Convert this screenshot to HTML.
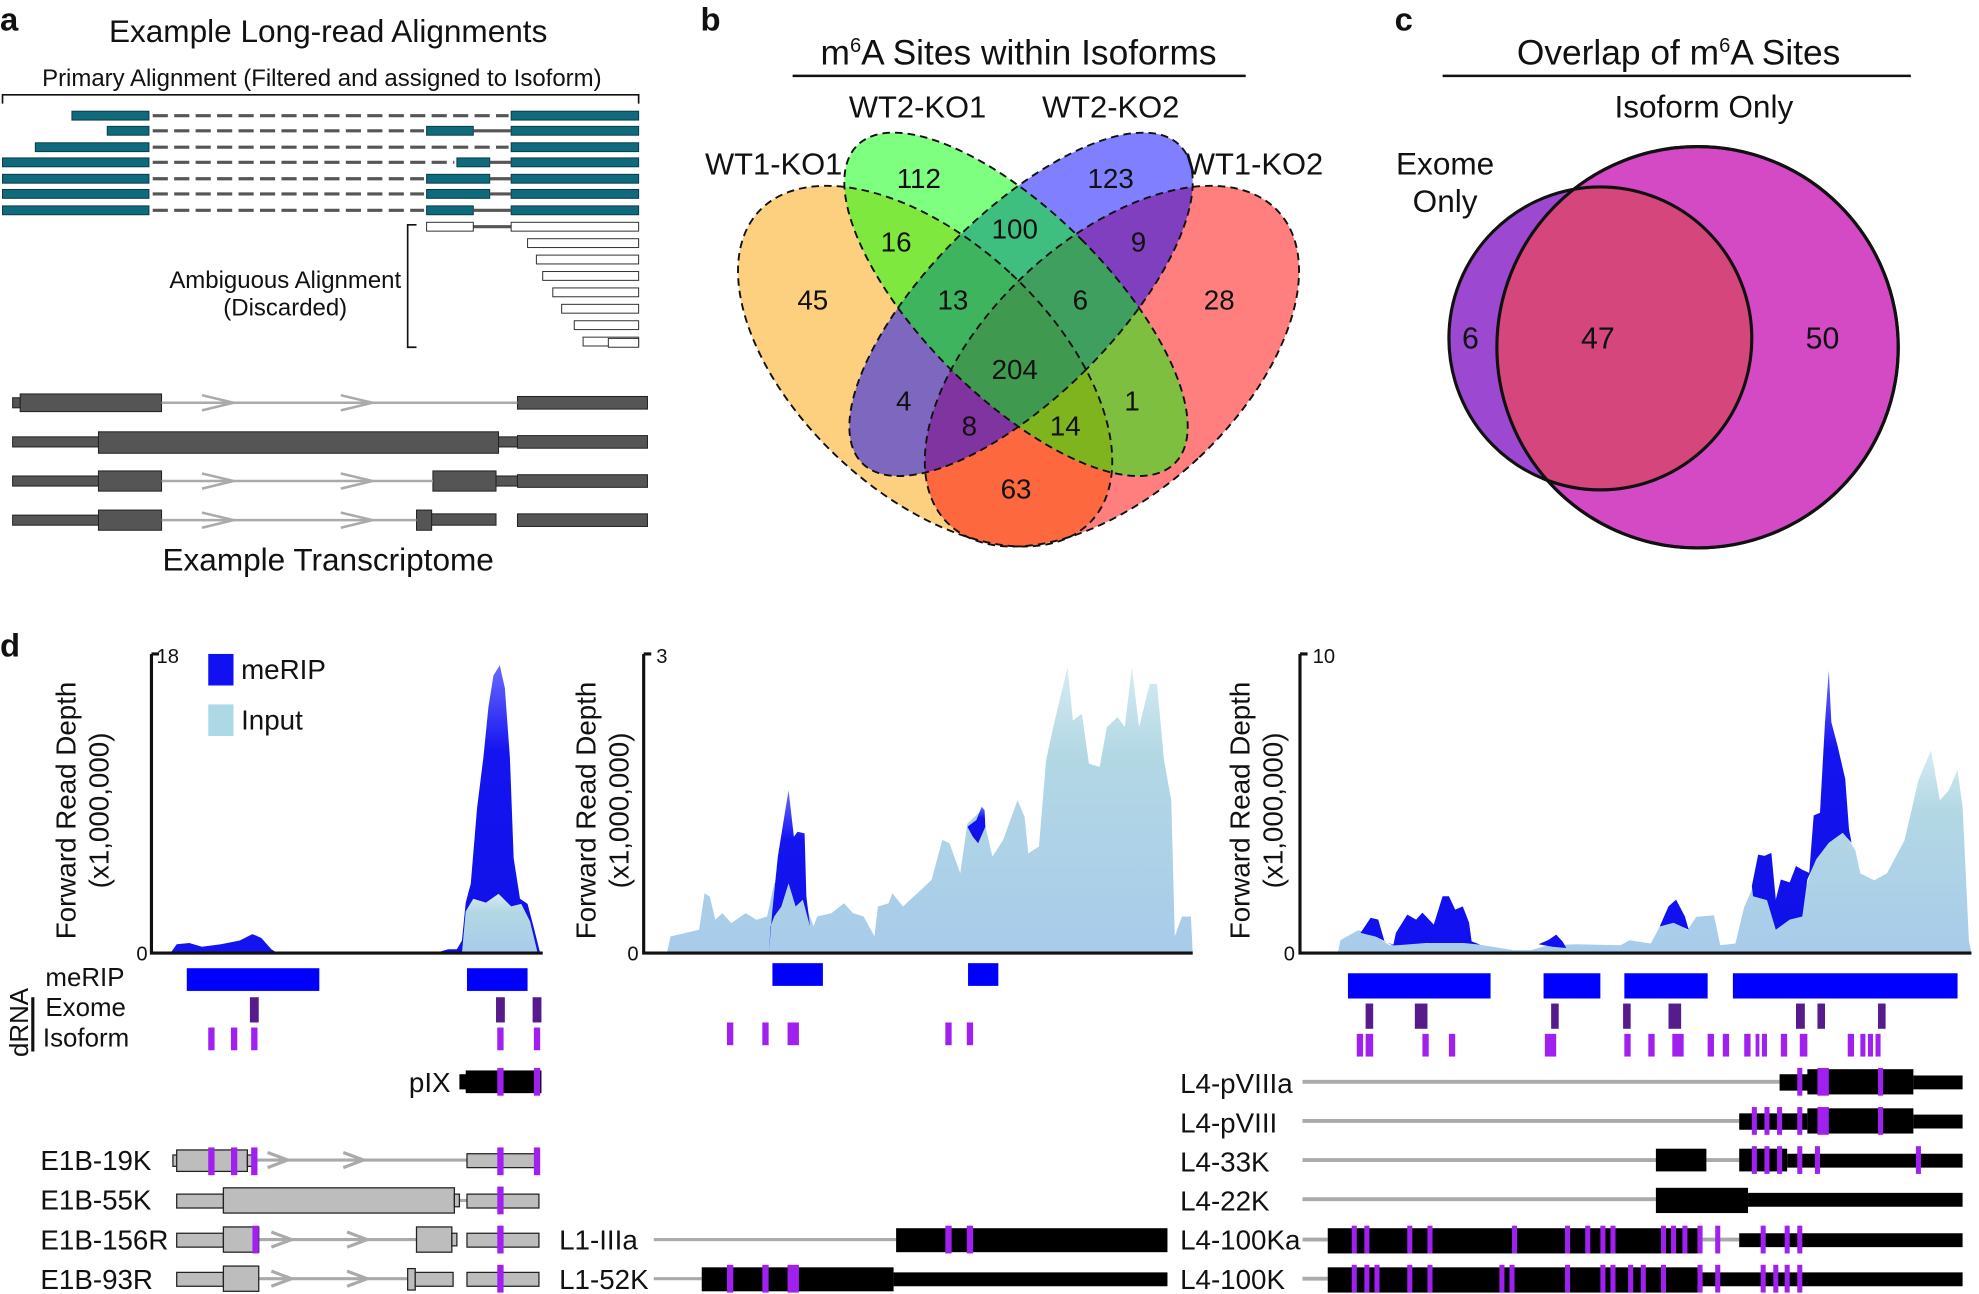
<!DOCTYPE html>
<html><head><meta charset="utf-8"><style>
html,body{margin:0;padding:0;background:#fff;width:1979px;height:1294px;overflow:hidden}
svg{display:block}
text{font-family:"Liberation Sans",Arial,sans-serif;fill:#111}
</style></head><body>
<svg width="1979" height="1294" viewBox="0 0 1568 1025" xmlns="http://www.w3.org/2000/svg">
<defs>
<linearGradient id="bg" x1="0" y1="0" x2="0" y2="1"><stop offset="0" stop-color="#6a6aff"/><stop offset="0.3" stop-color="#1414f0"/><stop offset="1" stop-color="#1010e8"/></linearGradient>
<linearGradient id="lb" x1="0" y1="0" x2="0" y2="1"><stop offset="0" stop-color="#d6ebf3"/><stop offset="0.3" stop-color="#b3d8e4"/><stop offset="1" stop-color="#a8cbea"/></linearGradient>
</defs>
<!-- panel a -->
<text x="0" y="24" font-size="26" font-weight="bold">a</text>
<text x="260" y="33" font-size="25" text-anchor="middle">Example Long-read Alignments</text>
<text x="255" y="68" font-size="19" text-anchor="middle">Primary Alignment (Filtered and assigned to Isoform)</text>
<path d="M2,82 V75 H506 V82" fill="none" stroke="#111" stroke-width="1.3"/>
<g fill="#0f6b7b" stroke="#0a3d47" stroke-width="0.8">
<rect x="57" y="88" width="61" height="7"/><rect x="405" y="88" width="101" height="7"/>
<rect x="85" y="100" width="33" height="7"/><rect x="338" y="100" width="37" height="7"/><rect x="405" y="100" width="101" height="7"/>
<rect x="28" y="113" width="90" height="7"/><rect x="405" y="113" width="101" height="7"/>
<rect x="2" y="125" width="116" height="7"/><rect x="362" y="125" width="26" height="7"/><rect x="405" y="125" width="101" height="7"/>
<rect x="2" y="138" width="116" height="7"/><rect x="338" y="138" width="50" height="7"/><rect x="405" y="138" width="101" height="7"/>
<rect x="2" y="150" width="116" height="7"/><rect x="338" y="150" width="50" height="7"/><rect x="405" y="150" width="101" height="7"/>
<rect x="2" y="163" width="116" height="7"/><rect x="338" y="163" width="37" height="7"/><rect x="405" y="163" width="101" height="7"/>
</g>
<g stroke="#555" stroke-width="2.5" stroke-dasharray="12,5">
<line x1="121" y1="91.5" x2="403" y2="91.5"/><line x1="121" y1="103.5" x2="336" y2="103.5"/>
<line x1="121" y1="116.5" x2="403" y2="116.5"/><line x1="121" y1="128.5" x2="360" y2="128.5"/>
<line x1="121" y1="141.5" x2="336" y2="141.5"/><line x1="121" y1="153.5" x2="336" y2="153.5"/>
<line x1="121" y1="166.5" x2="336" y2="166.5"/>
</g>
<g stroke="#555" stroke-width="2.5">
<line x1="375" y1="103.5" x2="405" y2="103.5"/><line x1="388" y1="128.5" x2="405" y2="128.5"/>
<line x1="388" y1="141.5" x2="405" y2="141.5"/><line x1="388" y1="153.5" x2="405" y2="153.5"/>
<line x1="375" y1="166.5" x2="405" y2="166.5"/><line x1="375" y1="179.5" x2="405" y2="179.5"/>
</g>
<g fill="#fff" stroke="#333" stroke-width="0.8">
<rect x="338" y="176" width="37" height="7"/><rect x="405" y="176" width="101" height="7"/>
<rect x="418" y="189" width="88" height="7"/><rect x="425" y="202" width="81" height="7"/>
<rect x="430" y="215" width="76" height="7"/><rect x="438" y="228" width="68" height="7"/>
<rect x="445" y="241" width="61" height="7"/><rect x="455" y="254" width="51" height="7"/>
<rect x="462" y="267" width="44" height="7"/><rect x="482" y="268" width="24" height="7"/>
</g>
<path d="M330,178 H323 V275 H330" fill="none" stroke="#111" stroke-width="1.3"/>
<text x="226" y="228" font-size="19" text-anchor="middle">Ambiguous Alignment</text>
<text x="226" y="250" font-size="19" text-anchor="middle">(Discarded)</text>
<g fill="#555" stroke="#222" stroke-width="0.8">
<rect x="10" y="315" width="6" height="8"/><rect x="16" y="312" width="112" height="14"/><rect x="410" y="314" width="103" height="10"/>
<rect x="10" y="346" width="68" height="8"/><rect x="78" y="342" width="317" height="17"/><rect x="395" y="346" width="15" height="8"/><rect x="410" y="345" width="103" height="10"/>
<rect x="10" y="377" width="68" height="8"/><rect x="78" y="373" width="50" height="16"/><rect x="343" y="373" width="50" height="16"/><rect x="393" y="377" width="17" height="8"/><rect x="410" y="376" width="103" height="10"/>
<rect x="10" y="408" width="68" height="8"/><rect x="78" y="404" width="50" height="16"/><rect x="330" y="404" width="12" height="16"/><rect x="342" y="407" width="51" height="9"/><rect x="410" y="407" width="103" height="10"/>
</g>
<g stroke="#aaa" stroke-width="2" fill="none">
<line x1="128" y1="319" x2="410" y2="319"/><path d="M160,313 L185,319 L160,325 M270,313 L295,319 L270,325"/>
<line x1="128" y1="381" x2="343" y2="381"/><path d="M160,375 L185,381 L160,387 M270,375 L295,381 L270,387"/>
<line x1="128" y1="412" x2="330" y2="412"/><path d="M160,406 L185,412 L160,418 M270,406 L295,412 L270,418"/>
</g>
<text x="260" y="452" font-size="25" text-anchor="middle">Example Transcriptome</text>

<!-- panel b -->
<text x="555" y="24" font-size="26" font-weight="bold">b</text>
<text x="807" y="51" font-size="28" text-anchor="middle">m<tspan font-size="16" dy="-10">6</tspan><tspan dy="10">A Sites within Isoforms</tspan></text>
<line x1="628" y1="60" x2="987" y2="60" stroke="#111" stroke-width="2"/>
<text x="727" y="93" font-size="24.5" text-anchor="middle">WT2-KO1</text>
<text x="880" y="93" font-size="24.5" text-anchor="middle">WT2-KO2</text>
<text x="613" y="138" font-size="24.5" text-anchor="middle">WT1-KO1</text>
<text x="994" y="138" font-size="24.5" text-anchor="middle">WT1-KO2</text>
<g stroke="none">
<ellipse cx="733" cy="290" rx="100" ry="180" transform="rotate(-47 733 290)" fill="#f9a100" fill-opacity="0.5"/>
<ellipse cx="881" cy="290" rx="100" ry="180" transform="rotate(47 881 290)" fill="#ff0000" fill-opacity="0.5"/>
<ellipse cx="809" cy="241" rx="73" ry="178" transform="rotate(45 809 241)" fill="#0000ff" fill-opacity="0.5"/>
<ellipse cx="805" cy="241" rx="73" ry="178" transform="rotate(-45 805 241)" fill="#00ff00" fill-opacity="0.5"/>
</g>
<g fill="none" stroke="#111" stroke-width="1.5" stroke-dasharray="6,4">
<ellipse cx="733" cy="290" rx="100" ry="180" transform="rotate(-47 733 290)"/>
<ellipse cx="881" cy="290" rx="100" ry="180" transform="rotate(47 881 290)"/>
<ellipse cx="809" cy="241" rx="73" ry="178" transform="rotate(45 809 241)"/>
<ellipse cx="805" cy="241" rx="73" ry="178" transform="rotate(-45 805 241)"/>
</g>
<g font-size="22" text-anchor="middle">
<text x="728" y="149">112</text><text x="880" y="149">123</text><text x="644" y="245">45</text><text x="966" y="245">28</text>
<text x="710" y="199">16</text><text x="804" y="189">100</text><text x="902" y="199">9</text><text x="755" y="245">13</text>
<text x="856" y="245">6</text><text x="804" y="300">204</text><text x="716" y="325">4</text><text x="897" y="325">1</text>
<text x="768" y="345">8</text><text x="844" y="345">14</text><text x="805" y="395">63</text>
</g>

<!-- panel c -->
<text x="1105" y="24" font-size="26" font-weight="bold">c</text>
<text x="1330" y="51" font-size="28" text-anchor="middle">Overlap of m<tspan font-size="16" dy="-10">6</tspan><tspan dy="10">A Sites</tspan></text>
<line x1="1143" y1="60" x2="1514" y2="60" stroke="#111" stroke-width="2"/>
<text x="1350" y="93" font-size="25" text-anchor="middle">Isoform Only</text>
<text x="1145" y="138" font-size="25" text-anchor="middle">Exome</text>
<text x="1145" y="168" font-size="25" text-anchor="middle">Only</text>
<circle cx="1345" cy="275" r="159" fill="#d44ac4" stroke="#111" stroke-width="2.5"/>
<circle cx="1268" cy="268" r="120" fill="#9c48d0"/>
<clipPath id="cc"><circle cx="1345" cy="275" r="159"/></clipPath>
<circle cx="1268" cy="268" r="120" fill="#d4467c" clip-path="url(#cc)"/>
<circle cx="1268" cy="268" r="120" fill="none" stroke="#111" stroke-width="2.5"/>
<circle cx="1345" cy="275" r="159" fill="none" stroke="#111" stroke-width="2.5"/>
<g font-size="24" text-anchor="middle"><text x="1165" y="276">6</text><text x="1266" y="276">47</text><text x="1444" y="276">50</text></g>

<!-- panel d -->
<text x="0" y="520" font-size="26" font-weight="bold">d</text>
<!-- plot1 -->
<path d="M135,755 L140,748 L150,747 L160,750 L175,748 L190,745 L200,740 L207,743 L215,752 L220,755 Z" fill="#1414f0"/>
<path d="M345,755 L355,752 L362,752 L366,745 L369,715 L373,700 L378,640 L383,600 L387,560 L391,535 L396,527 L400,545 L404,600 L407,680 L412,712 L418,716 L423,735 L428,755 Z" fill="url(#bg)"/>
<path d="M366,755 L369,722 L375,712 L385,715 L395,708 L405,718 L413,716 L420,730 L426,755 Z" fill="url(#lb)"/>
<g stroke="#111" stroke-width="2.5" fill="none"><path d="M120,518 V755 H430"/><line x1="120" y1="518" x2="126" y2="518"/></g>
<text x="124" y="525" font-size="16">18</text><text x="117" y="761" font-size="16" text-anchor="end">0</text>
<text transform="translate(60,642) rotate(-90)" font-size="22" text-anchor="middle">Forward Read Depth</text>
<text transform="translate(86,642) rotate(-90)" font-size="22" text-anchor="middle">(x1,000,000)</text>
<rect x="165" y="518" width="20" height="25" fill="#1010f0"/><text x="191" y="538" font-size="22">meRIP</text>
<rect x="165" y="558" width="20" height="25" fill="#add8e6"/><text x="191" y="578" font-size="22">Input</text>
<!-- plot2 -->
<path d="M528.4,755 L531.3,741.8 L542.6,739.2 L553.9,736.5 L558.2,707.6 L562.4,710.2 L566.7,728.6 L572.3,723.4 L579.4,731.3 L590.8,723.4 L599.3,728.6 L607.8,726 L613.4,699.7 L624.8,697 L636.1,710.2 L644.6,733.9 L647.5,726 L658.8,723.4 L668.7,715.5 L675.8,723.4 L684.3,726 L692.8,741.8 L695.6,718.1 L704.1,715.5 L707,707.6 L715.5,718.1 L721.1,712.8 L729.6,705 L738.1,697 L746.6,665.4 L752.3,668 L760.8,691.8 L766.5,652.3 L777.8,641.8 L786.3,678.6 L794.8,665.4 L806.2,633.9 L811.8,647 L814.7,676 L823.2,670.7 L828.8,602.3 L834.5,575.9 L845.8,528.5 L850.1,570.7 L857.2,565.4 L862.8,604.9 L871.3,607.5 L877,575.9 L885.5,568 L891.2,575.9 L896.8,528.5 L902.5,575.9 L911,541.7 L916.7,541.7 L922.3,602.3 L928,633.9 L930.8,741.8 L936.5,726 L943.6,726 L945,755 Z" fill="url(#lb)"/>
<path d="M609.2,755 L612,720.7 L616.3,678.6 L620.5,652.3 L624.8,626 L629,662.8 L631.9,658.9 L637.5,660.2 L638.9,710.2 L641.8,733.9 L636.1,712.8 L630.4,718.1 L624.8,699.7 L619.1,718.1 L613.4,726 L610.6,733.9 Z" fill="url(#bg)"/>
<path d="M766.5,654.9 L773.6,649.6 L777.8,639.1 L780.1,641.8 L780.7,654.9 L775,668 L770.8,662.8 Z" fill="url(#bg)"/>
<g stroke="#111" stroke-width="2.5" fill="none"><path d="M510,518 V755 H945"/><line x1="510" y1="518" x2="516" y2="518"/></g>
<text x="520" y="525" font-size="16">3</text><text x="506" y="761" font-size="16" text-anchor="end">0</text>
<text transform="translate(472,642) rotate(-90)" font-size="22" text-anchor="middle">Forward Read Depth</text>
<text transform="translate(498,642) rotate(-90)" font-size="22" text-anchor="middle">(x1,000,000)</text>
<!-- plot3 -->
<path d="M1060,755 L1062,744.8 L1076,736.9 L1086,739.5 L1101,748.8 L1122,747.4 L1157,746.1 L1175,748.8 L1199,752.7 L1213,752.7 L1227,748.8 L1249,748 L1284,748.8 L1291,744.8 L1308,747.4 L1315,734.2 L1326,729 L1337,736.9 L1344,726.3 L1358,725 L1363,748.8 L1375,747.4 L1382,718.4 L1389,702.5 L1400,713.1 L1407,731.6 L1418,726.3 L1432,699.9 L1439,676.1 L1449,665.6 L1460,657.6 L1470,673.5 L1474,692 L1485,697.3 L1495,692 L1509,665.6 L1520,618 L1530,594.3 L1537,633.9 L1544,626 L1551,610.1 L1555,639.2 L1560,744.8 L1562,755 Z" fill="url(#lb)"/>
<path d="M1078,739 L1086,727 L1092,728.5 L1097,745.7 L1104,748.4 L1106,739 L1115,724.5 L1122,728.5 L1127,723 L1136,732.5 L1143,710 L1148,710 L1153,720.6 L1159,718 L1164,731 L1166,745.7 L1173,748.4 L1160,747 L1130,747 L1104,749 L1090,742 Z" fill="#1010f0"/>
<path d="M1219,748 L1227,744.6 L1233,740.4 L1238,745.7 L1241,751 L1230,750 Z" fill="#1010f0"/>
<path d="M1315,734 L1322,718 L1328,712.7 L1335,726 L1338,736.5 L1326,731 Z" fill="#1010f0"/>
<path d="M1388,702 L1393,677 L1398,678 L1403.5,675.6 L1407,712.6 L1411,696.7 L1418,699 L1423,686 L1428,689 L1433.5,691.5 L1437,646 L1442,643.8 L1446,572 L1449,531 L1451,572 L1456,591 L1462,617 L1465,657 L1467,667.6 L1460,659.7 L1449,667.6 L1439,680.8 L1432,696.7 L1428,726 L1418,728.5 L1407,736.5 L1400,713.1 L1389,710 Z" fill="url(#bg)"/>
<g stroke="#111" stroke-width="2.5" fill="none"><path d="M1030,518 V755 H1562"/><line x1="1030" y1="518" x2="1036" y2="518"/></g>
<text x="1040" y="525" font-size="16">10</text><text x="1026" y="761" font-size="16" text-anchor="end">0</text>
<text transform="translate(990,642) rotate(-90)" font-size="22" text-anchor="middle">Forward Read Depth</text>
<text transform="translate(1016,642) rotate(-90)" font-size="22" text-anchor="middle">(x1,000,000)</text>

<!-- tracks -->
<text x="36" y="781" font-size="20.5">meRIP</text>
<text x="36" y="805" font-size="20.5">Exome</text>
<text x="34" y="829" font-size="20.5">Isoform</text>
<text transform="translate(22,810) rotate(-90)" font-size="20.5" text-anchor="middle">dRNA</text>
<line x1="26" y1="790" x2="26" y2="833" stroke="#111" stroke-width="2.5"/>
<g fill="#0000ff">
<rect x="148" y="767" width="105" height="18"/><rect x="370" y="767" width="48" height="18"/>
<rect x="612" y="763" width="40" height="18"/><rect x="767" y="763" width="24" height="18"/>
<rect x="1068" y="771" width="113" height="20"/><rect x="1223" y="771" width="45" height="20"/><rect x="1287" y="771" width="66" height="20"/><rect x="1373" y="771" width="178" height="20"/>
</g>
<g fill="#561c8c">
<rect x="198" y="790" width="7" height="20"/><rect x="393" y="790" width="7" height="20"/><rect x="422" y="790" width="7" height="20"/>
<rect x="1082" y="795" width="6" height="20"/><rect x="1121" y="795" width="10" height="20"/><rect x="1229" y="795" width="6" height="20"/><rect x="1286" y="795" width="6" height="20"/><rect x="1322" y="795" width="10" height="20"/><rect x="1423" y="795" width="7" height="20"/><rect x="1440" y="795" width="6" height="20"/><rect x="1488" y="795" width="6" height="20"/>
</g>
<g fill="#a020f0">
<rect x="165" y="814" width="5" height="18"/><rect x="183" y="814" width="5" height="18"/><rect x="199" y="814" width="5" height="18"/><rect x="394" y="814" width="5" height="18"/><rect x="423" y="814" width="5" height="18"/>
<rect x="576" y="810" width="5" height="18"/><rect x="604" y="810" width="5" height="18"/><rect x="624" y="810" width="9" height="18"/><rect x="749" y="810" width="5" height="18"/><rect x="766" y="810" width="5" height="18"/>
<rect x="1075" y="819" width="5" height="18"/><rect x="1082" y="819" width="6" height="18"/><rect x="1127" y="819" width="5" height="18"/><rect x="1148" y="819" width="5" height="18"/><rect x="1224" y="819" width="9" height="18"/><rect x="1287" y="819" width="5" height="18"/><rect x="1306" y="819" width="5" height="18"/><rect x="1325" y="819" width="9" height="18"/><rect x="1353" y="819" width="5" height="18"/><rect x="1365" y="819" width="5" height="18"/><rect x="1382" y="819" width="5" height="18"/><rect x="1391" y="819" width="3" height="18"/><rect x="1396" y="819" width="4" height="18"/><rect x="1411" y="819" width="5" height="18"/><rect x="1426" y="819" width="6" height="18"/><rect x="1464" y="819" width="5" height="18"/><rect x="1474" y="819" width="4" height="18"/><rect x="1480" y="819" width="4" height="18"/><rect x="1486" y="819" width="4" height="18"/>
</g>

<!-- gene models plot1 -->
<g font-size="22">
<text x="357" y="865" text-anchor="end">pIX</text>
<text x="32" y="927">E1B-19K</text><text x="32" y="958">E1B-55K</text><text x="32" y="990">E1B-156R</text><text x="32" y="1021">E1B-93R</text>
<text x="443" y="990">L1-IIIa</text><text x="443" y="1021">L1-52K</text>
</g>
<rect x="364" y="851" width="6" height="12" fill="#000"/><rect x="369" y="848" width="60" height="18" fill="#000"/>
<g stroke="#aaa" stroke-width="2.5" fill="none">
<line x1="195" y1="919" x2="370" y2="919"/><path d="M212,913 L228,919 L212,925 M272,913 L288,919 L272,925"/>
<line x1="360" y1="951" x2="370" y2="951"/>
<line x1="195" y1="982" x2="330" y2="982"/><path d="M215,976 L231,982 L215,988 M275,976 L291,982 L275,988"/>
<line x1="195" y1="1013" x2="323" y2="1013"/><path d="M215,1007 L231,1013 L215,1019 M275,1007 L291,1013 L275,1019"/>
<line x1="518" y1="982" x2="710" y2="982"/><line x1="518" y1="1013" x2="556" y2="1013"/>
</g>
<g fill="#bdbdbd" stroke="#222" stroke-width="1">
<rect x="137" y="915" width="4" height="9"/><rect x="140" y="911" width="56" height="17"/><rect x="196" y="915" width="4" height="9"/><rect x="370" y="914" width="57" height="11"/>
<rect x="140" y="946" width="37" height="11"/><rect x="177" y="941" width="183" height="20"/><rect x="360" y="946" width="4" height="10"/><rect x="370" y="946" width="57" height="11"/>
<rect x="140" y="977" width="37" height="11"/><rect x="177" y="972" width="28" height="20"/><rect x="330" y="972" width="28" height="20"/><rect x="358" y="977" width="4" height="10"/><rect x="370" y="977" width="57" height="11"/>
<rect x="140" y="1008" width="37" height="11"/><rect x="177" y="1003" width="28" height="20"/><rect x="323" y="1005" width="6" height="17"/><rect x="329" y="1008" width="30" height="11"/><rect x="370" y="1008" width="57" height="11"/>
</g>
<g fill="#000">
<rect x="710" y="973" width="215" height="19"/>
<rect x="556" y="1004" width="152" height="19"/><rect x="708" y="1008" width="217" height="11"/>
</g>
<g fill="#a020f0">
<rect x="394" y="846" width="5" height="22"/><rect x="423" y="846" width="5" height="22"/>
<rect x="165" y="909" width="5" height="22"/><rect x="183" y="909" width="5" height="22"/><rect x="199" y="909" width="5" height="22"/><rect x="394" y="909" width="5" height="22"/><rect x="423" y="909" width="5" height="22"/>
<rect x="394" y="940" width="5" height="22"/>
<rect x="200" y="971" width="5" height="22"/><rect x="394" y="971" width="5" height="22"/>
<rect x="394" y="1002" width="5" height="22"/>
<rect x="749" y="971" width="5" height="22"/><rect x="766" y="971" width="5" height="22"/>
<rect x="576" y="1002" width="5" height="22"/><rect x="604" y="1002" width="5" height="22"/><rect x="624" y="1002" width="9" height="22"/>
</g>

<!-- gene models plot3 -->
<g font-size="22">
<text x="935" y="866">L4-pVIIIa</text><text x="935" y="897">L4-pVIII</text><text x="935" y="928">L4-33K</text><text x="935" y="959">L4-22K</text><text x="935" y="990">L4-100Ka</text><text x="935" y="1021">L4-100K</text>
</g>
<g stroke="#aaa" stroke-width="3">
<line x1="1032" y1="857" x2="1410" y2="857"/><line x1="1032" y1="888" x2="1378" y2="888"/>
<line x1="1032" y1="919" x2="1378" y2="919"/><line x1="1032" y1="950" x2="1312" y2="950"/>
<line x1="1032" y1="982" x2="1052" y2="982"/><line x1="1345" y1="982" x2="1378" y2="982"/>
<line x1="1032" y1="1013" x2="1052" y2="1013"/>
</g>
<g fill="#000">
<rect x="1410" y="851" width="25" height="13"/><rect x="1432" y="847" width="84" height="20"/><rect x="1516" y="852" width="39" height="11"/>
<rect x="1378" y="882" width="54" height="13"/><rect x="1432" y="878" width="84" height="20"/><rect x="1516" y="883" width="39" height="11"/>
<rect x="1312" y="910" width="40" height="18"/><rect x="1378" y="910" width="38" height="18"/><rect x="1416" y="914" width="139" height="11"/>
<rect x="1312" y="941" width="73" height="20"/><rect x="1385" y="945" width="170" height="11"/>
<rect x="1052" y="973" width="293" height="20"/><rect x="1378" y="977" width="177" height="11"/>
<rect x="1052" y="1004" width="293" height="20"/><rect x="1345" y="1008" width="210" height="11"/>
</g>
<g fill="#a020f0">
<rect x="1424" y="846" width="4" height="22"/><rect x="1440" y="846" width="9" height="22"/><rect x="1488" y="846" width="4" height="22"/>
<rect x="1388" y="877" width="4" height="22"/><rect x="1398" y="877" width="4" height="22"/><rect x="1408" y="877" width="4" height="22"/><rect x="1424" y="877" width="4" height="22"/><rect x="1440" y="877" width="9" height="22"/><rect x="1488" y="877" width="4" height="22"/>
<rect x="1388" y="908" width="4" height="22"/><rect x="1398" y="908" width="4" height="22"/><rect x="1408" y="908" width="4" height="22"/><rect x="1424" y="908" width="4" height="22"/><rect x="1438" y="908" width="4" height="22"/><rect x="1518" y="908" width="4" height="22"/>
<rect x="1071" y="971" width="4" height="22"/><rect x="1081" y="971" width="4" height="22"/><rect x="1115" y="971" width="4" height="22"/><rect x="1131" y="971" width="4" height="22"/><rect x="1198" y="971" width="4" height="22"/><rect x="1240" y="971" width="4" height="22"/><rect x="1256" y="971" width="4" height="22"/><rect x="1268" y="971" width="4" height="22"/><rect x="1276" y="971" width="4" height="22"/><rect x="1316" y="971" width="4" height="22"/><rect x="1324" y="971" width="4" height="22"/><rect x="1333" y="971" width="4" height="22"/><rect x="1345" y="971" width="4" height="22"/><rect x="1359" y="971" width="4" height="22"/><rect x="1395" y="971" width="4" height="22"/><rect x="1414" y="971" width="4" height="22"/><rect x="1424" y="971" width="4" height="22"/>
<rect x="1071" y="1002" width="4" height="22"/><rect x="1081" y="1002" width="4" height="22"/><rect x="1089" y="1002" width="4" height="22"/><rect x="1115" y="1002" width="4" height="22"/><rect x="1131" y="1002" width="4" height="22"/><rect x="1188" y="1002" width="4" height="22"/><rect x="1196" y="1002" width="4" height="22"/><rect x="1240" y="1002" width="4" height="22"/><rect x="1268" y="1002" width="4" height="22"/><rect x="1276" y="1002" width="4" height="22"/><rect x="1290" y="1002" width="4" height="22"/><rect x="1300" y="1002" width="4" height="22"/><rect x="1316" y="1002" width="4" height="22"/><rect x="1345" y="1002" width="4" height="22"/><rect x="1359" y="1002" width="4" height="22"/><rect x="1395" y="1002" width="4" height="22"/><rect x="1405" y="1002" width="4" height="22"/><rect x="1414" y="1002" width="4" height="22"/><rect x="1424" y="1002" width="4" height="22"/>
</g>
</svg>
</body></html>
